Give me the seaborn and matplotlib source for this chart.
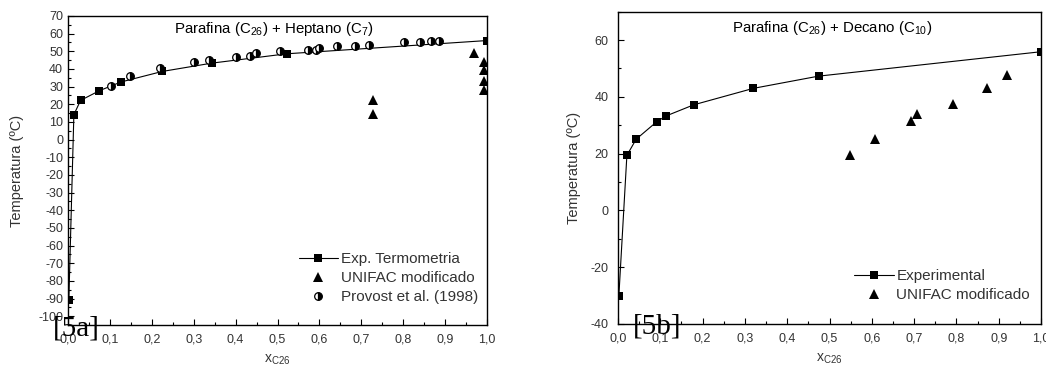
import matplotlib
matplotlib.use("Agg")
import matplotlib.pyplot as plt
import seaborn as sns
import pandas as pd
from matplotlib.ticker import MultipleLocator, FuncFormatter

sns.set_theme(style="ticks")
plt.rcParams['font.family'] = ['Liberation Sans', 'DejaVu Sans']
plt.rcParams['axes.unicode_minus'] = False

# ---- Panel 5a: Parafina (C26) + Heptano (C7) ----
hep_exp_x = [0.002, 0.014, 0.030, 0.075, 0.126, 0.225, 0.343, 0.522, 1.0]
hep_exp_y = [-91, 14.1, 22.2, 27.7, 32.6, 38.6, 43.3, 48.6, 56.1]
hep_unifac_x = [0.968, 0.992, 0.992, 0.992, 0.992, 0.729, 0.729]
hep_unifac_y = [49.0, 43.7, 39.3, 33.2, 28.2, 22.6, 14.7]
hep_prov_x = [0.102, 0.147, 0.219, 0.301, 0.336, 0.402, 0.434, 0.449, 0.506,
              0.572, 0.592, 0.598, 0.642, 0.684, 0.719, 0.802, 0.841, 0.866, 0.885]
hep_prov_y = [30.1, 36.3, 40.7, 43.9, 45.2, 47.0, 47.6, 49.2, 50.2,
              50.8, 51.0, 52.0, 53.1, 53.1, 53.8, 55.2, 55.5, 56.1, 56.1]

# ---- Panel 5b: Parafina (C26) + Decano (C10) ----
dec_exp_x = [0.002, 0.021, 0.043, 0.092, 0.114, 0.179, 0.320, 0.474, 1.0]
dec_exp_y = [-30.2, 19.4, 25.1, 31.3, 33.3, 37.2, 43.0, 47.3, 55.9]
dec_unifac_x = [0.548, 0.608, 0.692, 0.708, 0.791, 0.873, 0.919]
dec_unifac_y = [19.7, 25.3, 31.6, 33.8, 37.5, 43.3, 47.6]

x_ticks = [0.0, 0.1, 0.2, 0.3, 0.4, 0.5, 0.6, 0.7, 0.8, 0.9, 1.0]

fig = plt.figure(figsize=(10.46, 3.75), dpi=100)
axL = fig.add_axes([68/1046, 1-325/375, (487-68)/1046, (325-16)/375])
axR = fig.add_axes([618/1046, 1-324/375, (1041-618)/1046, (324-11.7)/375])

tick_color = '#333333'
comma = FuncFormatter(lambda v, p: f"{v:.1f}".replace('.', ','))

def style_axes(ax, ylim, ymaj, ymin, ypad, ylabpad):
    ax.set_xlim(0, 1)
    ax.set_ylim(*ylim)
    ax.set_xticks(x_ticks)
    ax.xaxis.set_major_formatter(comma)
    ax.xaxis.set_minor_locator(MultipleLocator(0.05))
    ax.yaxis.set_major_locator(MultipleLocator(ymaj))
    ax.yaxis.set_minor_locator(MultipleLocator(ymin))
    ax.tick_params(which='both', direction='in', top=False, right=False,
                   colors='black', labelcolor=tick_color, labelsize=9, width=0.8)
    ax.tick_params(which='major', length=4)
    ax.tick_params(which='minor', length=2.5)
    ax.tick_params(axis='x', which='both', pad=6)
    ax.tick_params(axis='y', which='both', pad=ypad)
    for s in ax.spines.values():
        s.set_linewidth(1.0)
        s.set_color('black')
    ax.set_ylabel('Temperatura (ºC)', fontsize=10.5, color=tick_color, labelpad=ylabpad)
    ax.set_xlabel(r'x$_{\mathregular{C26}}$', fontsize=10, color=tick_color, labelpad=5)

leg_kw = dict(frameon=False, fontsize=11, handlelength=2.6, handletextpad=0.15,
              labelspacing=0.32, borderaxespad=0, borderpad=0, labelcolor=tick_color,
              loc='lower right')

# Left panel
dfL = pd.DataFrame({'x': hep_exp_x, 'y': hep_exp_y})
sns.lineplot(data=dfL, x='x', y='y', ax=axL, estimator=None, sort=False,
             color='black', lw=0.8, marker='s', markersize=5.5, markeredgewidth=0,
             label='Exp. Termometria')
dfLu = pd.DataFrame({'x': hep_unifac_x, 'y': hep_unifac_y})
sns.lineplot(data=dfLu, x='x', y='y', ax=axL, estimator=None, sort=False,
             color='black', ls='none', marker='^', markersize=7, markeredgewidth=0,
             label='UNIFAC modificado')
dfLp = pd.DataFrame({'x': hep_prov_x, 'y': hep_prov_y})
sns.lineplot(data=dfLp, x='x', y='y', ax=axL, estimator=None, sort=False,
             color='black', ls='none', marker='o', markersize=5.5, fillstyle='right',
             markerfacecoloralt='white', markeredgecolor='black', markeredgewidth=0.9,
             label='Provost et al. (1998)')
style_axes(axL, (-105, 70), 10, 5, 3.5, 10)
axL.legend(bbox_to_anchor=(0.978, 0.068), **leg_kw)
axL.text(0.49, 0.958, r'Parafina (C$_{\mathregular{26}}$) + Heptano (C$_{\mathregular{7}}$)',
         transform=axL.transAxes, ha='center', va='center', fontsize=10.8, color='black')
fig.text(53/1046, 1-328/375, '[5a]', family='Liberation Serif', fontsize=21,
         ha='left', va='center', color='black')

# Right panel
dfR = pd.DataFrame({'x': dec_exp_x, 'y': dec_exp_y})
sns.lineplot(data=dfR, x='x', y='y', ax=axR, estimator=None, sort=False,
             color='black', lw=0.8, marker='s', markersize=5.5, markeredgewidth=0,
             label='Experimental')
dfRu = pd.DataFrame({'x': dec_unifac_x, 'y': dec_unifac_y})
sns.lineplot(data=dfRu, x='x', y='y', ax=axR, estimator=None, sort=False,
             color='black', ls='none', marker='^', markersize=7, markeredgewidth=0,
             label='UNIFAC modificado')
style_axes(axR, (-40, 70), 20, 10, 7, 7)
axR.legend(bbox_to_anchor=(0.974, 0.07), **leg_kw)
axR.text(0.506, 0.947, r'Parafina (C$_{\mathregular{26}}$) + Decano (C$_{\mathregular{10}}$)',
         transform=axR.transAxes, ha='center', va='center', fontsize=10.8, color='black')
fig.text(633/1046, 1-327/375, '[5b]', family='Liberation Serif', fontsize=21,
         ha='left', va='center', color='black')

fig.savefig('out.png', dpi=100)
